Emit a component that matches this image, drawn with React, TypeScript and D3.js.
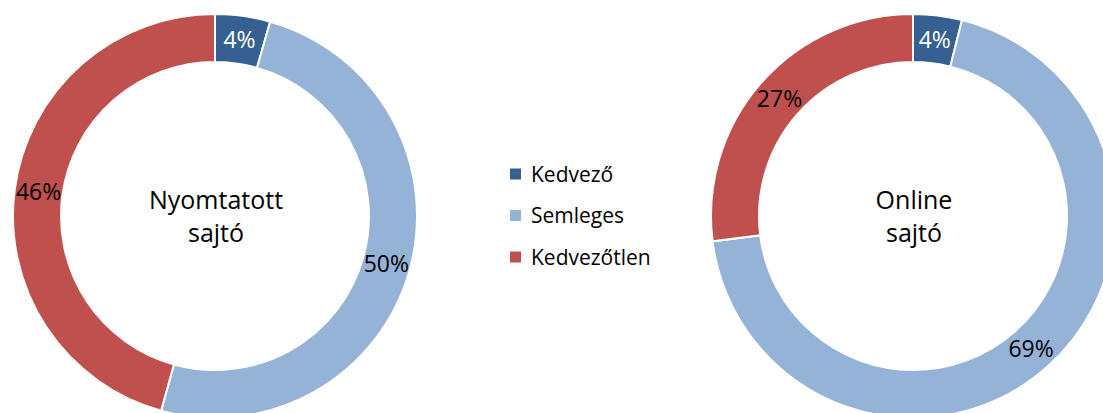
import React from "react";
import * as d3 from "d3";

const categories = ["Kedvező", "Semleges", "Kedvezőtlen"];
const colors = ["#376092", "#95B3D7", "#C0504D"];
const printValues = [4.4, 49.9, 45.7];
const onlineValues = [3.9, 69.1, 27.0];
const chartTitles = [["Nyomtatott", "sajtó"], ["Online", "sajtó"]];
const labelColors = ["#ffffff", "#000000", "#000000"];

const W = 1103;
const H = 413;
const FONT = "'Open Sans', 'Noto Sans', sans-serif";

function Donut({ cx, cy, values, title }: { cx: number; cy: number; values: number[]; title: string[] }) {
  const outer = 202;
  const inner = 154;
  const pie = d3.pie<number>().sort(null).value((d) => d);
  const arcs = pie(values);
  const arc = d3.arc<d3.PieArcDatum<number>>().innerRadius(inner).outerRadius(outer);
  const total = d3.sum(values);
  return (
    <g transform={`translate(${cx},${cy})`}>
      {arcs.map((a, i) => (
        <path key={i} d={arc(a) || ""} fill={colors[i]} stroke="#ffffff" strokeWidth={2} />
      ))}
      {arcs.map((a, i) => {
        const [x, y] = arc.centroid(a);
        return (
          <text
            key={"l" + i}
            x={x}
            y={y}
            dy="0.36em"
            textAnchor="middle"
            fontFamily={FONT}
            fontSize={23}
            fill={labelColors[i]}
          >
            {Math.round((values[i] / total) * 100)}%
          </text>
        );
      })}
      <text textAnchor="middle" fontFamily={FONT} fontSize={25} fill="#000">
        <tspan x={1} y={-7}>{title[0]}</tspan>
        <tspan x={1} y={26}>{title[1]}</tspan>
      </text>
    </g>
  );
}

export default function App() {
  const legendY = d3.scalePoint<string>().domain(categories).range([174, 257]);
  return (
    <svg
      width={W}
      height={H}
      style={{ position: "absolute", left: 0, top: 0, background: "#fff" }}
    >
      <rect width={W} height={H} fill="#fff" />
      <Donut cx={215} cy={216} values={printValues} title={chartTitles[0]} />
      <Donut cx={913} cy={216} values={onlineValues} title={chartTitles[1]} />
      {categories.map((c, i) => (
        <g key={c} transform={`translate(510,${legendY(c)})`}>
          <rect x={0} y={-5.5} width={11} height={11} fill={colors[i]} />
          <text x={21} y={0} dy="0.36em" fontFamily={FONT} fontSize={21} fill="#000">
            {c}
          </text>
        </g>
      ))}
    </svg>
  );
}
